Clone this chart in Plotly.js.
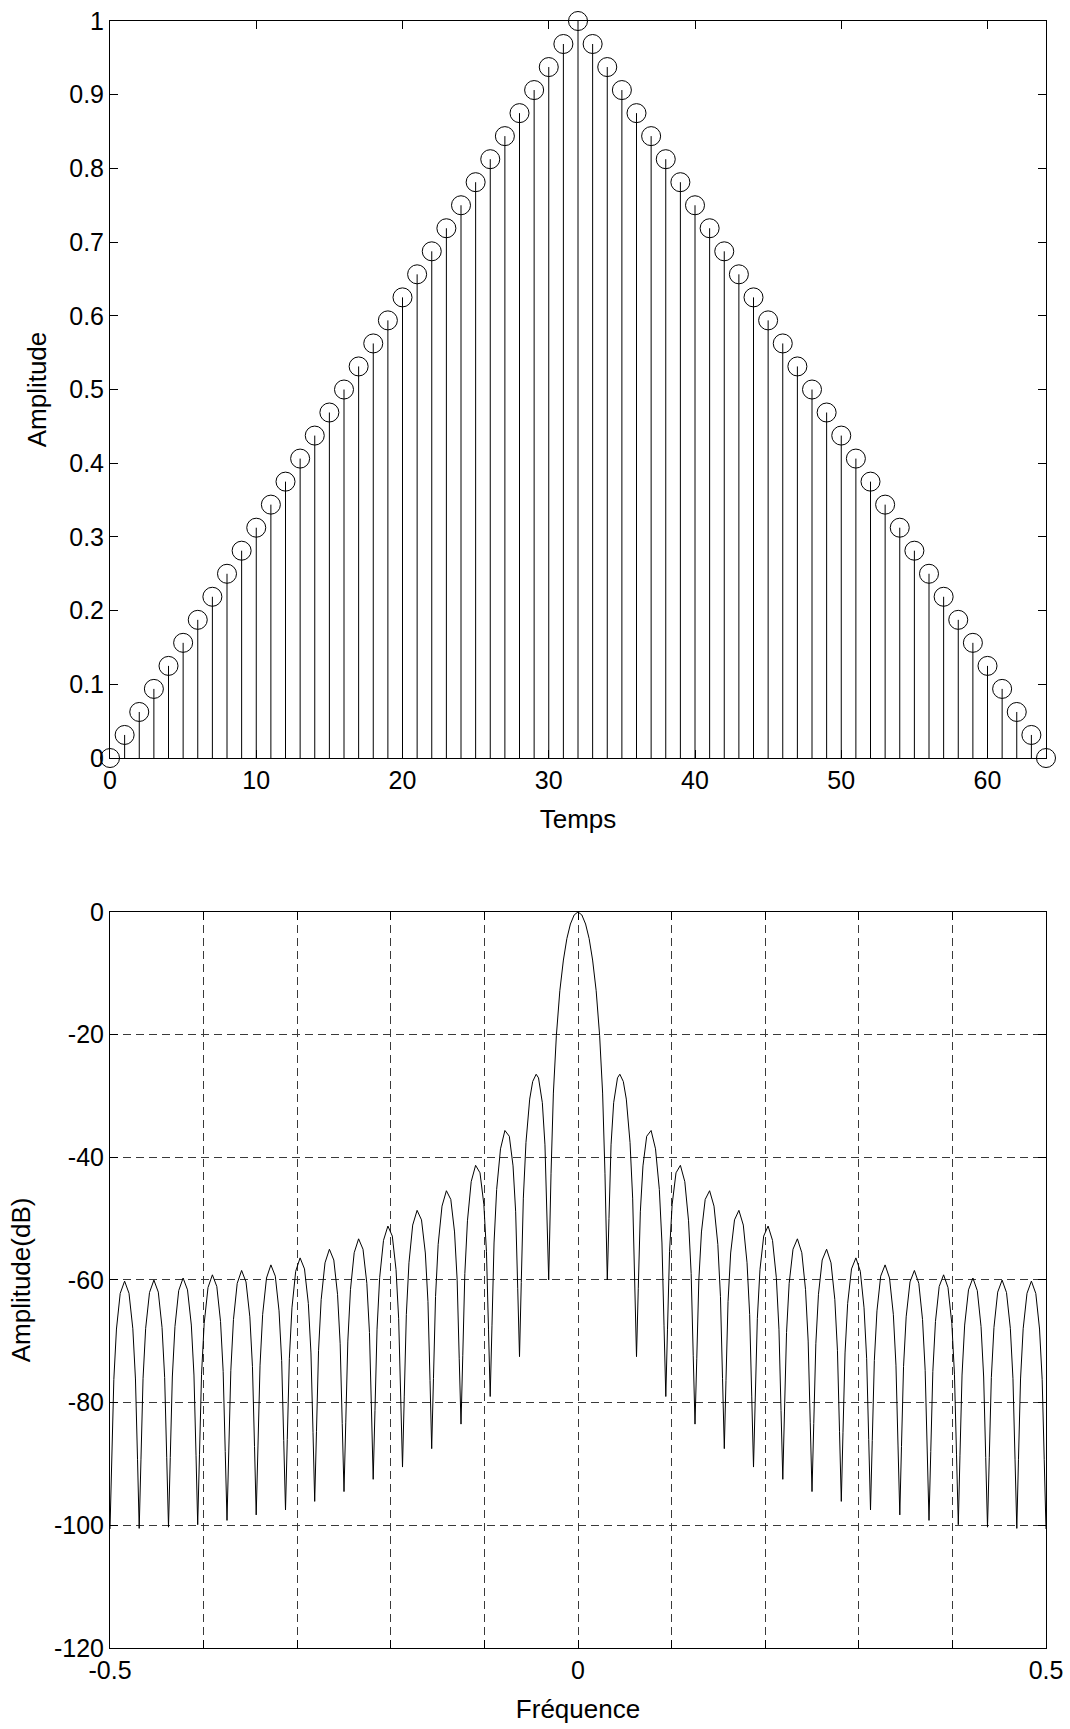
<!DOCTYPE html>
<html>
<head>
<meta charset="utf-8">
<script src="https://cdn.plot.ly/plotly-3.0.1.min.js"></script>
<style>
html,body{margin:0;padding:0;background:#fff;}
#chart{width:1070px;height:1729px;}
</style>
</head>
<body>
<div id="chart"></div>
<script>
// ---- top panel: triangular window (stem plot) ----
const timeIndex = [0,1,2,3,4,5,6,7,8,9,10,11,12,13,14,15,16,17,18,19,20,21,22,23,24,25,26,27,28,29,30,31,32,
  33,34,35,36,37,38,39,40,41,42,43,44,45,46,47,48,49,50,51,52,53,54,55,56,57,58,59,60,61,62,63,64];
const amplitude = [0,0.0313,0.0625,0.0938,0.125,0.1563,0.1875,0.2188,0.25,0.2813,0.3125,0.3438,0.375,0.4063,0.4375,0.4688,
  0.5,0.5313,0.5625,0.5938,0.625,0.6563,0.6875,0.7188,0.75,0.7813,0.8125,0.8438,0.875,0.9063,0.9375,0.9688,1,
  0.9688,0.9375,0.9063,0.875,0.8438,0.8125,0.7813,0.75,0.7188,0.6875,0.6563,0.625,0.5938,0.5625,0.5313,0.5,
  0.4688,0.4375,0.4063,0.375,0.3438,0.3125,0.2813,0.25,0.2188,0.1875,0.1563,0.125,0.0938,0.0625,0.0313,0];
const timeTicks = [0,10,20,30,40,50,60];
const ampTicks = [0,0.1,0.2,0.3,0.4,0.5,0.6,0.7,0.8,0.9,1];
const ampTickText = ['0','0.1','0.2','0.3','0.4','0.5','0.6','0.7','0.8','0.9','1'];

// ---- bottom panel: spectrum in dB ----
const freq = [
 -0.5,
 -0.4981,-0.4959,-0.4931,-0.4891,-0.4844,-0.4797,-0.4756,-0.4728,-0.4706,-0.4688,
 -0.4669,-0.4647,-0.4619,-0.4578,-0.4531,-0.4484,-0.4444,-0.4416,-0.4394,-0.4375,
 -0.4356,-0.4334,-0.4306,-0.4266,-0.4219,-0.4172,-0.4131,-0.4103,-0.4081,-0.4063,
 -0.4044,-0.4022,-0.3994,-0.3953,-0.3906,-0.3859,-0.3819,-0.3791,-0.3769,-0.375,
 -0.3731,-0.3709,-0.3681,-0.3641,-0.3594,-0.3547,-0.3506,-0.3478,-0.3456,-0.3438,
 -0.3419,-0.3397,-0.3369,-0.3328,-0.3281,-0.3234,-0.3194,-0.3166,-0.3144,-0.3125,
 -0.3106,-0.3084,-0.3056,-0.3016,-0.2969,-0.2922,-0.2881,-0.2853,-0.2831,-0.2813,
 -0.2794,-0.2772,-0.2744,-0.2703,-0.2656,-0.2609,-0.2569,-0.2541,-0.2519,-0.25,
 -0.2481,-0.2459,-0.2431,-0.2391,-0.2344,-0.2297,-0.2256,-0.2228,-0.2206,-0.2188,
 -0.2169,-0.2147,-0.2119,-0.2078,-0.2031,-0.1984,-0.1944,-0.1916,-0.1894,-0.1875,
 -0.1856,-0.1834,-0.1806,-0.1766,-0.1719,-0.1672,-0.1631,-0.1603,-0.1581,-0.1563,
 -0.1544,-0.1522,-0.1494,-0.1453,-0.1406,-0.1359,-0.1319,-0.1291,-0.1269,-0.125,
 -0.1231,-0.1209,-0.1181,-0.1141,-0.1094,-0.1047,-0.1006,-0.0978,-0.0956,-0.0938,
 -0.0919,-0.0897,-0.0869,-0.0828,-0.0781,-0.0734,-0.0694,-0.0666,-0.0644,-0.0625,
 -0.0606,-0.0584,-0.0556,-0.0516,-0.0484,-0.0447,-0.0422,-0.0381,-0.0353,-0.0331,-0.0313,
 -0.0288,-0.0263,-0.0231,-0.0194,-0.0156,-0.0119,-0.0081,-0.0041,0,
 0.0041,0.0081,0.0119,0.0156,0.0194,0.0231,0.0263,0.0288,
 0.0313,0.0331,0.0353,0.0381,0.0422,0.0447,0.0484,0.0516,0.0556,0.0584,0.0606,
 0.0625,0.0644,0.0666,0.0694,0.0734,0.0781,0.0828,0.0869,0.0897,0.0919,
 0.0938,0.0956,0.0978,0.1006,0.1047,0.1094,0.1141,0.1181,0.1209,0.1231,
 0.125,0.1269,0.1291,0.1319,0.1359,0.1406,0.1453,0.1494,0.1522,0.1544,
 0.1563,0.1581,0.1603,0.1631,0.1672,0.1719,0.1766,0.1806,0.1834,0.1856,
 0.1875,0.1894,0.1916,0.1944,0.1984,0.2031,0.2078,0.2119,0.2147,0.2169,
 0.2188,0.2206,0.2228,0.2256,0.2297,0.2344,0.2391,0.2431,0.2459,0.2481,
 0.25,0.2519,0.2541,0.2569,0.2609,0.2656,0.2703,0.2744,0.2772,0.2794,
 0.2813,0.2831,0.2853,0.2881,0.2922,0.2969,0.3016,0.3056,0.3084,0.3106,
 0.3125,0.3144,0.3166,0.3194,0.3234,0.3281,0.3328,0.3369,0.3397,0.3419,
 0.3438,0.3456,0.3478,0.3506,0.3547,0.3594,0.3641,0.3681,0.3709,0.3731,
 0.375,0.3769,0.3791,0.3819,0.3859,0.3906,0.3953,0.3994,0.4022,0.4044,
 0.4063,0.4081,0.4103,0.4131,0.4172,0.4219,0.4266,0.4306,0.4334,0.4356,
 0.4375,0.4394,0.4416,0.4444,0.4484,0.4531,0.4578,0.4619,0.4647,0.4669,
 0.4688,0.4706,0.4728,0.4756,0.4797,0.4844,0.4891,0.4931,0.4959,0.4981,
 0.5
];
const ampDb = [
 -100.6,
 -89.31,-76.21,-68.00,-62.20,-60.19,-62.17,-67.95,-76.14,-89.23,-100.5,
 -89.21,-76.09,-67.88,-62.05,-60.02,-61.98,-67.74,-75.91,-88.99,-100.3,
 -88.95,-75.82,-67.59,-61.74,-59.68,-61.61,-67.35,-75.50,-88.57,-99.9,
 -88.51,-75.37,-67.12,-61.24,-59.16,-61.06,-66.78,-74.92,-87.97,-99.2,
 -87.88,-74.73,-66.46,-60.56,-58.45,-60.32,-66.01,-74.13,-87.17,-98.3,
 -87.06,-73.89,-65.60,-59.68,-57.54,-59.38,-65.04,-73.14,-86.16,-97.5,
 -86.03,-72.84,-64.54,-58.58,-56.40,-58.20,-63.82,-71.90,-84.91,-96.1,
 -84.74,-71.54,-63.21,-57.21,-54.99,-56.75,-62.34,-70.40,-83.39,-94.5,
 -83.18,-69.96,-61.59,-55.56,-53.29,-54.99,-60.54,-68.56,-81.52,-92.5,
 -81.27,-68.02,-59.62,-53.54,-51.21,-52.84,-58.33,-66.31,-79.24,-90.5,
 -78.93,-65.64,-57.20,-51.05,-48.65,-50.20,-55.60,-63.53,-76.42,-87.5,
 -76.04,-62.70,-54.20,-47.96,-45.45,-46.87,-52.17,-60.02,-72.85,-83.5,
 -72.36,-58.95,-50.35,-43.97,-41.31,-42.53,-47.66,-55.39,-68.13,-79.0,
 -67.48,-53.97,-45.23,-38.62,-35.63,-36.57,-41.40,-48.89,-61.42,-72.5,
 -60.39,-46.66,-37.61,-30.51,-27.64,-26.46,-27.05,-31.10,-37.97,-49.97,-60.0,
 -42.59,-29.53,-20.13,-12.84,-7.84,-4.34,-1.97,-0.49,0,
 -0.49,-1.97,-4.34,-7.84,-12.84,-20.13,-29.53,-42.59,
 -60.0,-49.97,-37.97,-31.10,-27.05,-26.46,-27.64,-30.51,-37.61,-46.66,-60.39,
 -72.5,-61.42,-48.89,-41.40,-36.57,-35.63,-38.62,-45.23,-53.97,-67.48,
 -79.0,-68.13,-55.39,-47.66,-42.53,-41.31,-43.97,-50.35,-58.95,-72.36,
 -83.5,-72.85,-60.02,-52.17,-46.87,-45.45,-47.96,-54.20,-62.70,-76.04,
 -87.5,-76.42,-63.53,-55.60,-50.20,-48.65,-51.05,-57.20,-65.64,-78.93,
 -90.5,-79.24,-66.31,-58.33,-52.84,-51.21,-53.54,-59.62,-68.02,-81.27,
 -92.5,-81.52,-68.56,-60.54,-54.99,-53.29,-55.56,-61.59,-69.96,-83.18,
 -94.5,-83.39,-70.40,-62.34,-56.75,-54.99,-57.21,-63.21,-71.54,-84.74,
 -96.1,-84.91,-71.90,-63.82,-58.20,-56.40,-58.58,-64.54,-72.84,-86.03,
 -97.5,-86.16,-73.14,-65.04,-59.38,-57.54,-59.68,-65.60,-73.89,-87.06,
 -98.3,-87.17,-74.13,-66.01,-60.32,-58.45,-60.56,-66.46,-74.73,-87.88,
 -99.2,-87.97,-74.92,-66.78,-61.06,-59.16,-61.24,-67.12,-75.37,-88.51,
 -99.9,-88.57,-75.50,-67.35,-61.61,-59.68,-61.74,-67.59,-75.82,-88.95,
 -100.3,-88.99,-75.91,-67.74,-61.98,-60.02,-62.05,-67.88,-76.09,-89.21,
 -100.5,-89.23,-76.14,-67.95,-62.17,-60.19,-62.20,-68.00,-76.21,-89.31,
 -100.6
];
const freqTicks = [-0.5,-0.4,-0.3,-0.2,-0.1,0,0.1,0.2,0.3,0.4,0.5];
const freqTickText = ['-0.5','','','','','0','','','','','0.5'];
const dbTicks = [-120,-100,-80,-60,-40,-20,0];
const dbTickText = ['-120','-100','-80','-60','-40','-20','0'];

const FONT = 'Liberation Sans, Arial, Helvetica, sans-serif';
const stemBase = amplitude.map(() => 0);

const traces = [
  {
    type: 'scatter', mode: 'markers',
    x: timeIndex, y: amplitude, xaxis: 'x', yaxis: 'y',
    cliponaxis: false, hoverinfo: 'x+y',
    marker: {symbol: 'circle-open', size: 19, color: '#000', line: {width: 1, color: '#000'}},
    error_y: {type: 'data', symmetric: false, array: stemBase, arrayminus: amplitude,
              width: 0, thickness: 1, color: '#000'}
  },
  {
    type: 'scatter', mode: 'lines',
    x: freq, y: ampDb, xaxis: 'x2', yaxis: 'y2',
    line: {color: '#000', width: 1}
  }
];

const axisCommon = {
  ticks: 'inside', ticklen: 8, tickwidth: 1, tickcolor: '#000',
  showline: true, linecolor: '#000', linewidth: 1, mirror: 'allticks',
  zeroline: false, tickfont: {family: FONT, size: 25, color: '#000'},
  automargin: false, fixedrange: true
};

const layout = {
  width: 1070, height: 1729,
  margin: {l: 110, r: 24, t: 21, b: 81, pad: 0},
  paper_bgcolor: '#fff', plot_bgcolor: '#fff',
  showlegend: false,
  font: {family: FONT, size: 25, color: '#000'},
  xaxis: Object.assign({}, axisCommon, {
    domain: [0, 1], anchor: 'y', range: [0, 64],
    tickmode: 'array', tickvals: timeTicks, ticktext: timeTicks.map(String),
    showgrid: false,
    title: {text: 'Temps', font: {family: FONT, size: 26, color: '#000'}, standoff: 16}
  }),
  yaxis: Object.assign({}, axisCommon, {
    domain: [0.547, 1], anchor: 'x', range: [0, 1],
    tickmode: 'array', tickvals: ampTicks, ticktext: ampTickText,
    showgrid: false,
    title: {text: 'Amplitude', font: {family: FONT, size: 26, color: '#000'}, standoff: 15}
  }),
  xaxis2: Object.assign({}, axisCommon, {
    domain: [0, 1], anchor: 'y2', range: [-0.5, 0.5],
    tickmode: 'array', tickvals: freqTicks, ticktext: freqTickText,
    showgrid: true, gridcolor: '#3a3a3a', gridwidth: 1, griddash: '8px,5px',
    title: {text: 'Fréquence', font: {family: FONT, size: 26, color: '#000'}, standoff: 16}
  }),
  yaxis2: Object.assign({}, axisCommon, {
    domain: [0, 0.4524], anchor: 'x2', range: [-120, 0],
    tickmode: 'array', tickvals: dbTicks, ticktext: dbTickText,
    showgrid: true, gridcolor: '#3a3a3a', gridwidth: 1, griddash: '8px,5px',
    title: {text: 'Amplitude(dB)', font: {family: FONT, size: 26, color: '#000'}, standoff: 15}
  })
};

Plotly.newPlot('chart', traces, layout, {displayModeBar: false, staticPlot: true});
</script>
</body>
</html>
